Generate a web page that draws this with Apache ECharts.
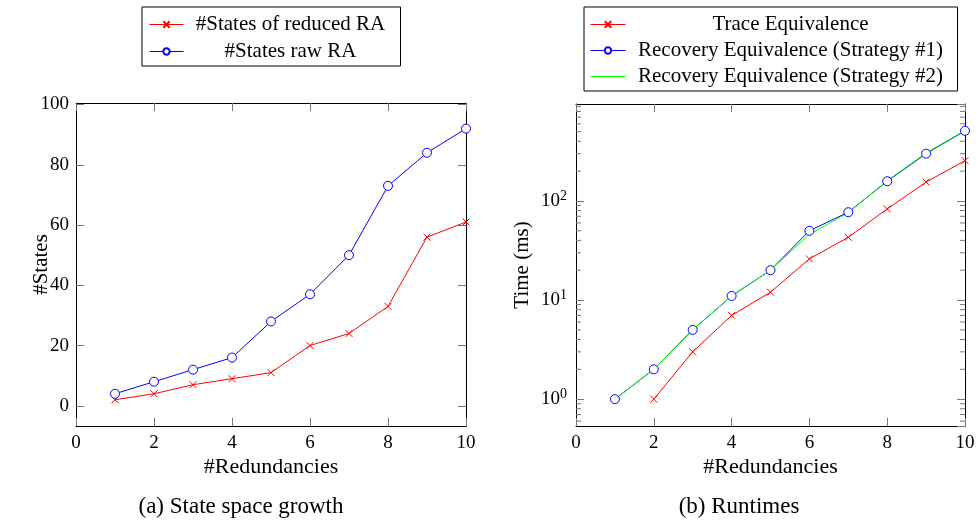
<!DOCTYPE html>
<html>
<head>
<meta charset="utf-8">
<script src="https://cdn.jsdelivr.net/npm/echarts@6/dist/echarts.min.js"></script>
<style>
  html, body { margin: 0; padding: 0; background: #fff; }
  #chart-container { width: 979px; height: 520px; }
</style>
</head>
<body>
<div id="chart-container"></div>
<script>
// x values (#Redundancies)
var redundancies = [1, 2, 3, 4, 5, 6, 7, 8, 9, 10];

// (a) state space growth
var statesReduced = [2, 4, 7, 9, 11, 20, 24, 33, 56, 61];
var statesRaw = [4, 8, 12, 16, 28, 37, 50, 73, 84, 92];

// (b) runtimes in ms (trace equivalence starts at 2 redundancies)
var traceX = [2, 3, 4, 5, 6, 7, 8, 9, 10];
var traceTime = [1, 3, 7, 12, 26, 43, 83, 155, 255];
var strategy1Time = [1, 2, 5, 11, 20, 50, 77, 158, 300, 510];
var strategy2Time = [1, 2, 5, 11, 20, 46, 76, 160, 305, 515];

var statesTicks = [0, 20, 40, 60, 80, 100];
var logMinorTicks = [0.6, 0.7, 0.8, 0.9, 2, 3, 4, 5, 6, 7, 8, 9,
  20, 30, 40, 50, 60, 70, 80, 90, 200, 300, 400, 500, 600, 700, 800, 900];

var FONT = "Liberation Serif";
var tickColor = "#777";

function pairs(xs, ys) {
  return xs.map(function (x, i) { return [x, ys[i]]; });
}

var dom = document.getElementById("chart-container");
var myChart = echarts.init(dom, null, { renderer: "canvas" });

var crossSymbol = "path://M0,0L10,10M10,0L0,10";

function xAxisPair(gridIndex) {
  var base = {
    type: "value", gridIndex: gridIndex, min: 0, max: 10, interval: 2,
    splitLine: { show: false },
    axisLine: { onZero: false, lineStyle: { color: "#000", width: 1 } },
    axisTick: { inside: true, length: 8, lineStyle: { color: tickColor } }
  };
  return [
    Object.assign({}, base, {
      position: "bottom",
      name: "#Redundancies", nameLocation: "middle", nameGap: 30, nameMoveOverlap: false,
      nameTextStyle: { fontFamily: FONT, fontSize: 22, color: "#000" },
      axisLabel: { fontFamily: FONT, fontSize: 19, color: "#000", margin: 8 }
    }),
    Object.assign({}, base, { position: "top", axisLabel: { show: false } })
  ];
}

var redStyle = { color: "#ff0000", borderColor: "#ff0000", borderWidth: 1 };
var blueStyle = { color: "#ffffff", borderColor: "#0000ff", borderWidth: 1 };

var option = {
  animation: false,
  textStyle: { fontFamily: FONT },
  grid: [
    { left: 76, right: 513, top: 103, bottom: 94 },
    { left: 576, right: 14, top: 104, bottom: 94 }
  ],
  legend: [
    {
      data: ["#States of reduced RA", "#States raw RA"],
      left: 142, top: 7, orient: "vertical",
      itemWidth: 34, itemHeight: 8, itemGap: 6,
      padding: [7, 8, 4, 7],
      lineStyle: { width: 1 },
      borderColor: "#000", borderWidth: 1, borderRadius: 0,
      formatter: function (n) { return "{t|" + n + "}"; },
      textStyle: {
        rich: { t: { width: 204, align: "center", fontFamily: FONT, fontSize: 21, color: "#000", lineHeight: 21 } }
      }
    },
    {
      data: [
        "Trace Equivalence",
        "Recovery Equivalence (Strategy #1)",
        { name: "Recovery Equivalence (Strategy #2)", itemStyle: { opacity: 0 } }
      ],
      left: 584, top: 7, orient: "vertical",
      itemWidth: 35, itemHeight: 8, itemGap: 5,
      padding: [7, 7, 4, 6],
      lineStyle: { width: 1 },
      borderColor: "#000", borderWidth: 1, borderRadius: 0,
      formatter: function (n) { return "{t|" + n + "}"; },
      textStyle: {
        rich: { t: { width: 320, align: "center", fontFamily: FONT, fontSize: 21, color: "#000", lineHeight: 21 } }
      }
    }
  ],
  xAxis: xAxisPair(0).concat(xAxisPair(1)),
  yAxis: [
    {
      type: "value", gridIndex: 0, position: "left", min: -6.7, max: 100.5,
      splitLine: { show: false },
      axisLine: { show: true, onZero: false, lineStyle: { color: "#000", width: 1 } },
      axisTick: { inside: true, length: 8, customValues: statesTicks, lineStyle: { color: tickColor } },
      axisLabel: { customValues: statesTicks, fontFamily: FONT, fontSize: 19, color: "#000", margin: 7 },
      name: "#States", nameLocation: "middle", nameGap: 24, nameMoveOverlap: false,
      nameTextStyle: { fontFamily: FONT, fontSize: 21, color: "#000" }
    },
    {
      type: "value", gridIndex: 0, position: "right", min: -6.7, max: 100.5,
      splitLine: { show: false },
      axisLine: { show: true, onZero: false, lineStyle: { color: "#000", width: 1 } },
      axisTick: { inside: true, length: 8, customValues: statesTicks, lineStyle: { color: tickColor } },
      axisLabel: { show: false }
    },
    {
      type: "log", gridIndex: 1, position: "left", min: 0.536, max: 951, logBase: 10,
      splitLine: { show: false },
      axisLine: { show: true, onZero: false, lineStyle: { color: "#000", width: 1 } },
      axisTick: { inside: true, length: 8, lineStyle: { color: tickColor } },
      axisLabel: {
        fontFamily: FONT, fontSize: 19, color: "#000", margin: 9,
        showMinLabel: false, showMaxLabel: false,
        formatter: function (v) {
          var e = Math.log10(v);
          if (Math.abs(e - Math.round(e)) > 1e-6) return "";
          return "10{s|" + Math.round(e) + "}";
        },
        rich: { s: { fontFamily: FONT, fontSize: 14, color: "#000", verticalAlign: "top", padding: [0, 0, 10, 0] } }
      },
      name: "Time (ms)", nameLocation: "middle", nameGap: 43, nameMoveOverlap: false,
      nameTextStyle: { fontFamily: FONT, fontSize: 21, color: "#000" }
    },
    {
      type: "log", gridIndex: 1, position: "right", min: 0.536, max: 951, logBase: 10,
      splitLine: { show: false },
      axisLine: { show: true, onZero: false, lineStyle: { color: "#000", width: 1 } },
      axisTick: { inside: true, length: 8, lineStyle: { color: tickColor } },
      axisLabel: { show: false }
    }
  ],
  graphic: [
    { type: "text", x: 241, y: 507, style: { text: "(a) State space growth", font: "23px " + FONT, fill: "#000", align: "center", verticalAlign: "middle" } },
    { type: "text", x: 739, y: 507, style: { text: "(b) Runtimes", font: "23px " + FONT, fill: "#000", align: "center", verticalAlign: "middle" } }
  ],
  series: [
    {
      name: "#States of reduced RA", type: "line", xAxisIndex: 0, yAxisIndex: 0,
      data: pairs(redundancies, statesReduced),
      symbol: crossSymbol, symbolSize: 7,
      itemStyle: redStyle,
      lineStyle: { color: "#ff0000", width: 1 }
    },
    {
      name: "#States raw RA", type: "line", xAxisIndex: 0, yAxisIndex: 0,
      data: pairs(redundancies, statesRaw),
      symbol: "circle", symbolSize: 9,
      itemStyle: blueStyle,
      lineStyle: { color: "#0000ff", width: 1 }
    },
    {
      name: "Trace Equivalence", type: "line", xAxisIndex: 2, yAxisIndex: 2,
      data: pairs(traceX, traceTime),
      symbol: crossSymbol, symbolSize: 7,
      itemStyle: redStyle,
      lineStyle: { color: "#ff0000", width: 1 }
    },
    {
      name: "Recovery Equivalence (Strategy #1)", type: "line", xAxisIndex: 2, yAxisIndex: 2,
      data: pairs(redundancies, strategy1Time),
      symbol: "circle", symbolSize: 9,
      itemStyle: blueStyle,
      lineStyle: { color: "#0000ff", width: 1 }
    },
    {
      name: "Recovery Equivalence (Strategy #2)", type: "line", xAxisIndex: 2, yAxisIndex: 2,
      data: pairs(redundancies, strategy2Time),
      symbol: "none", z: 3,
      itemStyle: { color: "#00ff00" },
      lineStyle: { color: "#00ff00", width: 1 }
    },
    {
      // minor ticks of the log axis, left and right
      type: "custom", xAxisIndex: 2, yAxisIndex: 2, silent: true,
      data: logMinorTicks.map(function (v) { return [0, v]; }),
      renderItem: function (params, api) {
        var v = api.value(1);
        var l = api.coord([0, v]);
        var r = api.coord([10, v]);
        var st = { stroke: tickColor, lineWidth: 1 };
        return {
          type: "group",
          children: [
            { type: "line", shape: { x1: l[0], y1: l[1], x2: l[0] + 5, y2: l[1] }, style: st },
            { type: "line", shape: { x1: r[0], y1: r[1], x2: r[0] - 5, y2: r[1] }, style: st }
          ]
        };
      }
    }
  ]
};

myChart.setOption(option);
</script>
</body>
</html>
